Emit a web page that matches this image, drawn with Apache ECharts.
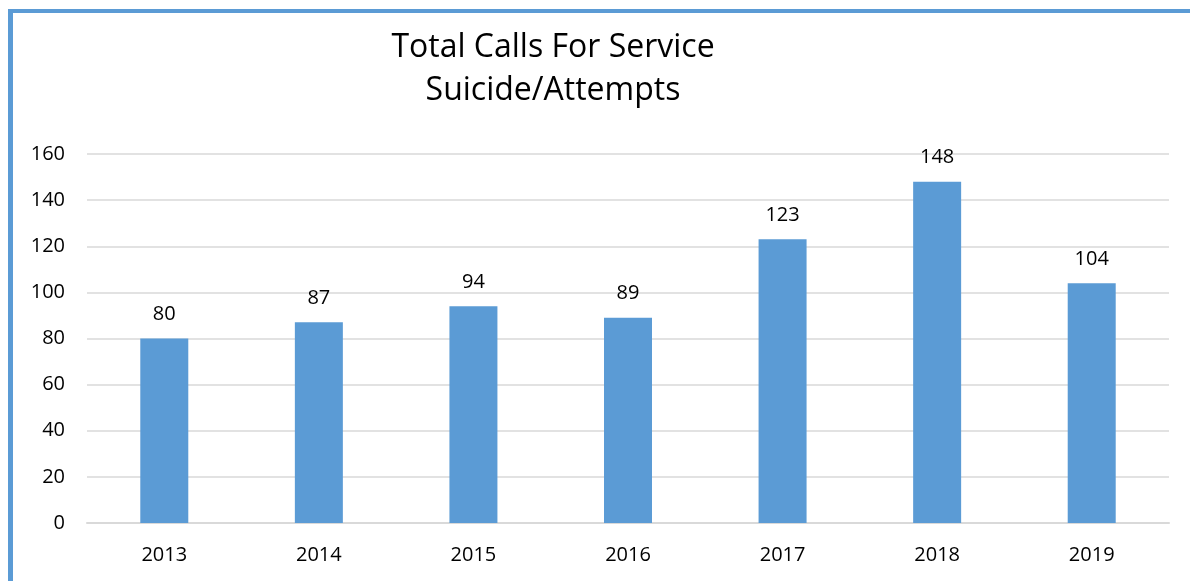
<!DOCTYPE html>
<html><head><meta charset="utf-8">
<script src="https://cdn.jsdelivr.net/npm/echarts@6/dist/echarts.min.js"></script>
<style>
html,body{margin:0;padding:0;background:#fff;}
#frame{position:absolute;left:8px;top:9px;width:1182px;height:572px;border-left:5px solid #5b9bd5;border-top:4px solid #5b9bd5;box-sizing:border-box;}
#c{position:absolute;left:0;top:0;width:1190px;height:581px;}
</style></head>
<body>
<div id="frame"></div>
<div id="c"></div>
<script>
const categories = ['2013','2014','2015','2016','2017','2018','2019'];
const calls = [80, 87, 94, 89, 123, 148, 104];
const titleLines = ['Total Calls For Service', 'Suicide/Attempts'];

const chart = echarts.init(document.getElementById('c'));
chart.setOption({
  animation: false,
  title: {
    text: titleLines.join('\n'),
    left: 548, top: 21, textAlign: 'center',
    textStyle: {fontFamily: 'Open Sans', fontSize: 32, fontWeight: 'normal', color: '#000', lineHeight: 43}
  },
  grid: {left: 87, right: 21, top: 154, bottom: 58, containLabel: false},
  xAxis: {
    type: 'category', data: categories,
    axisLine: {lineStyle: {color: '#d9d9d9', width: 2}},
    axisTick: {show: false},
    axisLabel: {color: '#000', fontFamily: 'Open Sans', fontSize: 20, margin: 22}
  },
  yAxis: {
    type: 'value', min: 0, max: 160, interval: 20,
    axisLine: {show: false}, axisTick: {show: false},
    splitLine: {lineStyle: {color: '#d9d9d9', width: 1.5}},
    axisLabel: {color: '#000', fontFamily: 'Open Sans', fontSize: 20, margin: 22}
  },
  series: [{
    type: 'bar', data: calls, barWidth: 48,
    itemStyle: {color: '#5b9bd5'},
    label: {show: true, position: 'top', distance: 14, color: '#000', fontFamily: 'Open Sans', fontSize: 20}
  }]
});
</script>
</body></html>
